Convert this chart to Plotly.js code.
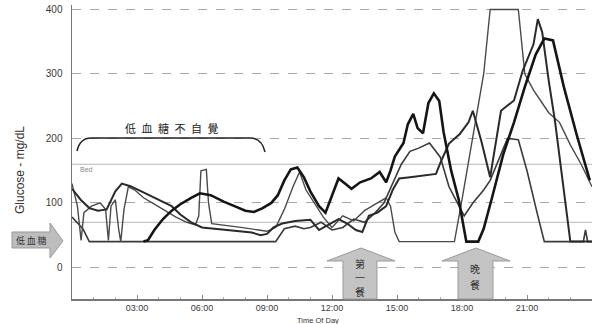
<!DOCTYPE html>
<html>
<head>
<meta charset="utf-8">
<script src="https://cdn.plot.ly/plotly-3.0.1.min.js"></script>
<style>
html,body{margin:0;padding:0;background:#fff;}
#chart{width:598px;height:324px;}
</style>
</head>
<body>
<div id="chart"></div>
<script>
// ---- data (hours of day, glucose mg/dL) ----
const hoursA = [0,0.4,0.8,1.2,1.6,2.0,2.3,2.7,3.2,3.7,4.2,4.6,5.0,5.5,6.0,6.6,7.2,7.8,8.3,8.7,9.0,9.3,9.7,10.3,11.0,11.4,11.8,12.3,12.7,13.1,13.4,13.7,14.1,14.5,14.8,15.1,15.6,16.1,16.8,17.0,17.4,17.9,18.3,18.5,18.9,19.3,19.6,19.8,20.4,20.8,21.3,21.5,21.7,22.0,22.3,22.7,23.0,24];
const glucoseA = [122,105,92,88,90,118,130,126,118,110,102,95,82,70,62,60,58,56,54,50,52,62,68,72,74,58,65,75,68,58,55,80,85,95,120,138,140,142,145,162,192,207,225,243,195,140,200,243,259,305,346,385,365,290,225,120,40,40];

const hoursB = [3.3,3.5,3.8,4.2,4.6,5.0,5.5,5.9,6.4,7.0,7.5,8.0,8.4,8.8,9.2,9.5,9.8,10.1,10.4,10.7,11.0,11.4,11.7,12.0,12.3,12.6,12.9,13.3,13.8,14.2,14.5,14.7,14.9,15.3,15.5,15.75,15.95,16.2,16.45,16.7,16.95,17.15,17.5,17.85,18.1,18.2,18.75,19.0,19.4,19.9,20.4,20.9,21.4,21.8,22.2,22.7,23.3,23.9];
const glucoseB = [40,42,58,75,88,98,108,115,112,102,95,88,86,92,100,112,135,152,155,140,118,95,85,110,138,130,122,132,138,148,132,150,172,193,222,238,216,208,255,270,258,210,150,105,60,40,40,60,110,175,225,280,330,355,352,280,205,135];

const hoursC = [0,0.25,0.42,0.55,0.9,1.3,1.55,1.68,1.8,2.0,2.15,2.25,2.4,2.6,2.9,3.3,3.8,4.3,4.8,5.3,5.7,5.85,5.95,6.2,6.3,6.45,7.0,7.8,8.6,9.0,9.4,9.8,10.2,10.5,10.8,11.2,11.6,12.0,12.5,13.0,13.5,14.0,14.5,14.7,14.9,15.1,17.65,18.0,18.5,19.0,19.3,20.6,20.9,21.3,21.7,22.0,22.5,23.0,23.5,24];
const glucoseC = [130,95,42,85,95,100,90,42,95,105,60,40,90,125,120,108,98,88,78,70,66,80,150,152,100,68,66,62,58,56,62,90,125,148,120,100,78,62,80,72,88,98,108,95,55,40,40,105,200,300,400,400,300,275,255,240,225,190,160,125];

const hoursD = [0,0.5,0.8,3.0,6.0,9.4,9.8,10.3,10.7,11.0,11.5,12.0,12.5,13.0,13.5,14.0,14.4,14.8,15.2,15.6,16.0,16.5,17.0,17.4,17.8,18.1,18.5,19.0,19.3,19.8,20.1,20.6,21.0,21.5,21.8,23.6,23.7,23.8,24];
const glucoseD = [78,60,40,40,40,40,60,64,60,62,70,58,62,75,70,85,100,130,160,180,185,193,171,125,100,80,100,120,135,175,200,198,150,80,40,40,58,40,40];

const yTicks = [0,100,200,300,400];
const xTickVals = [3,6,9,12,15,18,21];
const xTickText = ["03:00","06:00","09:00","12:00","15:00","18:00","21:00"];
const refLines = [70,160];

// ---- layout geometry helpers (pixel -> paper) ----
const L=72, W=520, T=5, H=294;
const px = p => (p-L)/W;
const py = p => (T+H-p)/H;
function path(pts){return pts.map((p,i)=>(i?'L':'M')+px(p[0]).toFixed(4)+','+py(p[1]).toFixed(4)).join(' ')+' Z';}

const traces = [
  {x:hoursD,y:glucoseD,line:{color:'#3a3a3a',width:1.6}},
  {x:hoursC,y:glucoseC,line:{color:'#4a4a4a',width:1.4}},
  {x:hoursA,y:glucoseA,line:{color:'#2a2a2a',width:2.0}},
  {x:hoursB,y:glucoseB,line:{color:'#151515',width:2.6}}
].map(t=>Object.assign({type:'scatter',mode:'lines',hoverinfo:'skip'},t));

const shapes = refLines.map(v=>({type:'line',xref:'paper',yref:'y',x0:0,x1:1,y0:v,y1:v,line:{color:'#b5b5b5',width:1},layer:'below'}));
// bracket
shapes.push({type:'path',xref:'paper',yref:'paper',
  path:'M'+px(77)+','+py(151)+' Q'+px(80)+','+py(138)+' '+px(91)+','+py(138)+' L'+px(250)+','+py(138)+' Q'+px(262)+','+py(138)+' '+px(265)+','+py(152),
  line:{color:'#222',width:1.5}});
// left arrow
shapes.push({type:'path',xref:'paper',yref:'paper',path:path([[12,232],[50,232],[50,223],[63,241],[50,258],[50,248],[12,248]]),fillcolor:'#bdbdbd',line:{color:'#999',width:1}});
// up arrows
shapes.push({type:'path',xref:'paper',yref:'paper',path:path([[343,299],[343,261],[327,261],[361,248],[395,261],[377,261],[377,299]]),fillcolor:'#c4c4c4',line:{color:'#9a9a9a',width:1}});
shapes.push({type:'path',xref:'paper',yref:'paper',path:path([[458,299],[458,261],[442,261],[476,248],[510,261],[493,261],[493,299]]),fillcolor:'#c4c4c4',line:{color:'#9a9a9a',width:1}});

const cjk = '"Noto Sans CJK TC","Noto Sans CJK SC",sans-serif';
const lat = 'Liberation Sans, Arial, sans-serif';
function ann(text,x,y,size,extra){return Object.assign({text:text,xref:'paper',yref:'paper',x:px(x),y:py(y),showarrow:false,xanchor:'center',yanchor:'middle',font:{size:size,color:'#333',family:cjk}},extra||{});}
const annotations = [
  ann('低\u2002血\u2002糖\u2002不\u2002自\u2002覺',172,128,11,{font:{size:11,color:'#222',family:cjk}}),
  ann('低\u2009血\u2009糖',31,240,9),
  ann('第',360,263,10), ann('一',360,277,10), ann('餐',360,291,10),
  ann('晚',475,268,10), ann('餐',475,284,10),
  ann('Bed',86,169,7,{font:{size:7,color:'#888',family:lat}}),
  ann('Glucose - mg/dL',20,170,12,{textangle:-90,font:{size:12,color:'#333',family:lat}}),
  ann('Time Of Day',318,320,7.5,{font:{size:7.5,color:'#333',family:lat}})
];

const layout = {
  width:598,height:324,
  margin:{l:L,r:598-L-W,t:T,b:324-T-H,pad:0},
  paper_bgcolor:'#fff',plot_bgcolor:'#fff',
  showlegend:false,
  font:{family:lat,size:10,color:'#333'},
  xaxis:{range:[0,24],tickvals:xTickVals,ticktext:xTickText,ticks:'inside',ticklen:4,tickcolor:'#888',
    minor:{ticks:'inside',tickvals:[1,2,4,5,7,8,10,11,13,14,16,17,19,20,22,23],ticklen:2,tickcolor:'#aaa'},
    showgrid:false,zeroline:false,showline:true,linecolor:'#777',linewidth:1.5,
    tickfont:{size:9,color:'#3a3a3a'},fixedrange:true},
  yaxis:{range:[-49,407],tickvals:yTicks,ticks:'',showgrid:true,gridcolor:'#a8a8a8',griddash:'dash',gridwidth:1,
    zeroline:false,showline:true,linecolor:'#777',linewidth:1.5,ticklabelstandoff:6,
    tickfont:{size:10,color:'#3a3a3a'},fixedrange:true},
  shapes:shapes,
  annotations:annotations
};
Plotly.newPlot('chart',traces,layout,{staticPlot:true,displayModeBar:false});
</script>
</body>
</html>
